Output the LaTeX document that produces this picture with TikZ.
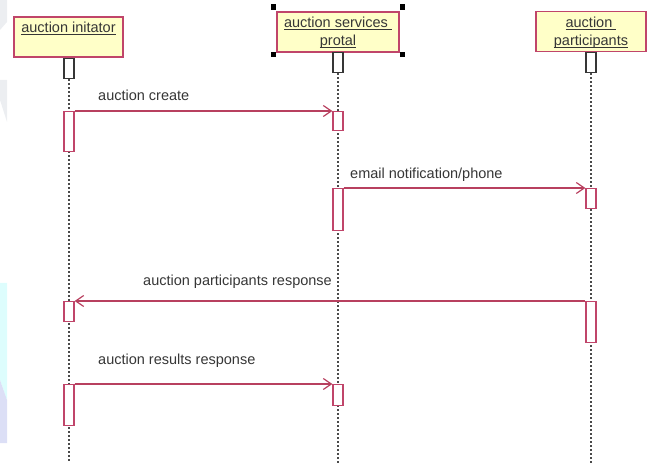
\documentclass[tikz,border=0pt]{standalone}
\usepackage{fontspec}
\setmainfont{Liberation Sans}
\usetikzlibrary{arrows.meta}

\definecolor{headfill}{HTML}{FFFFC8}
\definecolor{umlred}{HTML}{C0456A}
\definecolor{msgred}{HTML}{B8405F}
\definecolor{inkgray}{HTML}{363636}
\definecolor{dotgray}{HTML}{4A4A4A}
\definecolor{washgray}{HTML}{ECEEF1}
\definecolor{washcyan}{HTML}{DDFDFD}
\definecolor{washlilac}{HTML}{DCDFF6}

% underline sitting a fixed distance under the baseline
\newcommand\ulabel[1]{\setbox0\hbox{#1}\rlap{\rule[-2.4bp]{\wd0}{1bp}}\box0}

\begin{document}
\begin{tikzpicture}[x=1bp,y=-1bp,
  txt/.style={font=\fontsize{14.5bp}{18bp}\selectfont, text=inkgray},
  head/.style={draw=umlred, line width=1.3bp, fill=headfill,
    inner sep=0pt, minimum height=40bp},
  title/.style={txt, inner sep=0pt, anchor=base},
  ctlbox/.style={draw=inkgray, line width=1.3bp, fill=white,
    inner sep=0pt, minimum width=10bp, minimum height=20bp, anchor=north},
  act/.style={draw=umlred, line width=1.3bp, fill=white,
    inner sep=0pt, minimum width=10bp, anchor=north},
  life/.style={draw=dotgray, line width=1.6bp, dash pattern=on 1.6bp off 2.4bp},
  msg/.style={draw=msgred, line width=1.2bp,
    -{Straight Barb[length=8bp,width=11bp,line width=1.2bp]}},
  lbl/.style={txt, inner sep=0pt},
  handle/.style={fill=black, inner sep=0pt, minimum size=5.5bp}
]
\useasboundingbox (0,0) rectangle (652,463);

% faint wash along the left edge
\fill[washgray] (0,0) -- (7,0) -- (7,22) -- (0,30) -- cycle;
\fill[washgray] (0,80) -- (7,80) -- (7,122) -- (0,100) -- cycle;
\fill[washcyan] (0,283) -- (7,283) -- (7,400) -- (0,380) -- cycle;
\fill[washlilac] (0,380) -- (7,400) -- (7,443) -- (0,443) -- cycle;

% object heads
\node[head, minimum width=109bp] (h1) at (68.5,37) {};
\node[head, minimum width=122bp] (h2) at (338,32) {};
\node[head, minimum width=110bp] (h3) at (591,31.5) {};

% head titles
\node[title] (t1) at (68.5,33) {\ulabel{auction initator}};
\node[title] (t2a) at (338,28) {\ulabel{auction services }};
\node[title] (t2b) at (338,46) {\ulabel{protal}};
\node[title] (t3a) at (591,28) {\ulabel{auction }};
\node[title] (t3b) at (591,46) {\ulabel{participants}};

% selection handles on the portal head
\node[handle] at (273.5,7) {};
\node[handle] at (402.5,7) {};
\node[handle] at (273.5,54.5) {};
\node[handle] at (402.5,54.5) {};

% control boxes under the heads
\node[ctlbox] (s1) at (69,58) {};
\node[ctlbox] (s2) at (338,52) {};
\node[ctlbox] (s3) at (591,52) {};

% lifeline ends
\coordinate (e1) at (69,463);
\coordinate (e2) at (338,463);
\coordinate (e3) at (591,463);

\draw[life] (s1.south) -- (e1);
\draw[life] (s2.south) -- (e2);
\draw[life] (s3.south) -- (e3);

% activation bars
\node[act, minimum height=40bp] (a1) at (69,111) {};
\node[act, minimum height=19bp] (a2) at (338,111) {};
\node[act, minimum height=42bp] (a3) at (338,188) {};
\node[act, minimum height=20bp] (a4) at (591,188) {};
\node[act, minimum height=20bp] (a5) at (69,301) {};
\node[act, minimum height=41bp] (a6) at (591,301) {};
\node[act, minimum height=41bp] (a7) at (69,384) {};
\node[act, minimum height=21bp] (a8) at (338,384) {};

% messages
\draw[msg] (a1.north east) -- (a2.north west);
\draw[msg] (a3.north east) -- (a4.north west);
\draw[msg] (a6.north west) -- (a5.north east);
\draw[msg] (a7.north east) -- (a8.north west);

% message labels
\node[lbl, anchor=base west] (m1) at (98,101) {auction create};
\node[lbl, anchor=base west] (m2) at (350,179) {email notification/phone};
\node[lbl, anchor=base east] (m3) at (332,286) {auction participants response};
\node[lbl, anchor=base west] (m4) at (98,364) {auction results response};
\end{tikzpicture}
\end{document}
